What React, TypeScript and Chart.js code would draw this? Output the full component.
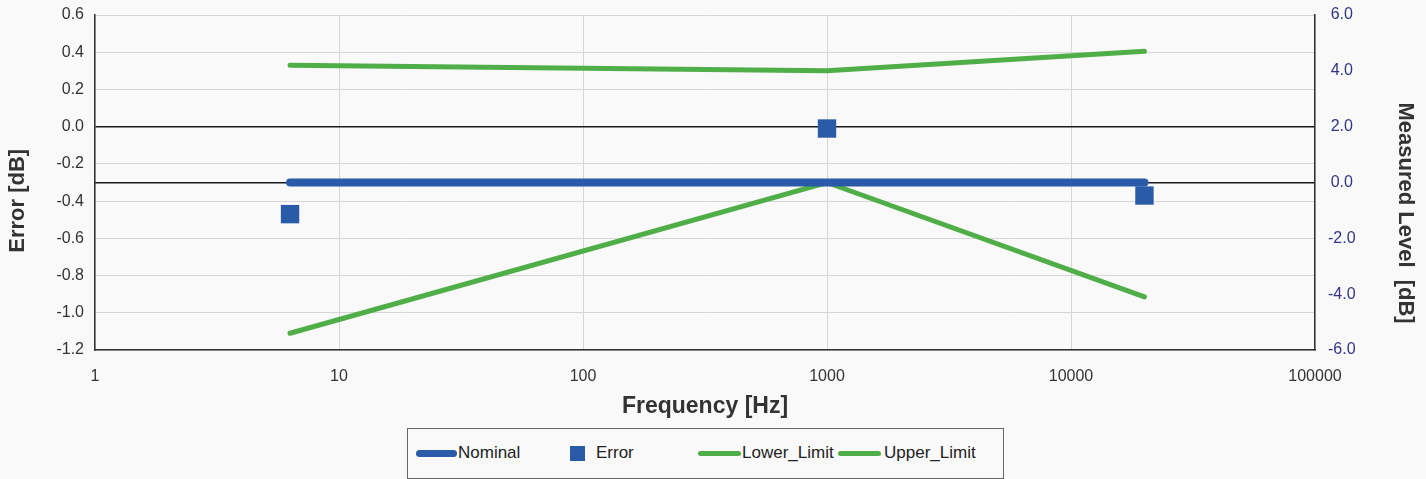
import React, { useEffect, useRef } from "react";
import { Chart, registerables } from "chart.js";

Chart.register(...registerables);

const FONT = "'Liberation Sans', Arial, Helvetica, sans-serif";

// Data
const frequencies = [6.3, 1000, 20000];
const nominalLevel = [0, 0, 0];
const errorValues = [-0.47, -0.01, -0.37];
const lowerLimit = [-5.4, 0.0, -4.1];
const upperLimit = [4.2, 4.0, 4.7];
const xTickValues = [1, 10, 100, 1000, 10000, 100000];
const seriesLabels = ["Nominal", "Error", "Lower_Limit", "Upper_Limit"];

const BLUE = "#2a5ba8";
const GREEN = "#50ae48";

const fmt1 = (v: number) => {
  const n = Math.abs(v) < 1e-9 ? 0 : v;
  return n.toFixed(1);
};

const pts = (ys: number[]) => frequencies.map((x, i) => ({ x, y: ys[i] }));

export default function App() {
  const ref = useRef<HTMLCanvasElement | null>(null);

  useEffect(() => {
    if (!ref.current) return;
    Chart.defaults.font.family = FONT;
    const chart = new Chart(ref.current, {
      type: "line",
      data: {
        datasets: [
          {
            label: seriesLabels[0],
            data: pts(nominalLevel),
            yAxisID: "y2",
            borderColor: BLUE,
            backgroundColor: BLUE,
            borderWidth: 8,
            borderCapStyle: "round",
            pointRadius: 0,
          },
          {
            label: seriesLabels[1],
            data: pts(errorValues),
            yAxisID: "y",
            showLine: false,
            pointStyle: "rect",
            pointRadius: 13,
            pointBorderWidth: 0,
            pointBackgroundColor: BLUE,
            borderColor: BLUE,
            backgroundColor: BLUE,
          },
          {
            label: seriesLabels[2],
            data: pts(lowerLimit),
            yAxisID: "y2",
            borderColor: GREEN,
            backgroundColor: GREEN,
            borderWidth: 5,
            borderCapStyle: "round",
            pointRadius: 0,
          },
          {
            label: seriesLabels[3],
            data: pts(upperLimit),
            yAxisID: "y2",
            borderColor: GREEN,
            backgroundColor: GREEN,
            borderWidth: 5,
            borderCapStyle: "round",
            pointRadius: 0,
          },
        ],
      },
      options: {
        responsive: false,
        devicePixelRatio: 1,
        animation: false,
        layout: { padding: { top: 15, left: 0, right: 0, bottom: 0 } },
        plugins: { legend: { display: false }, tooltip: { enabled: false } },
        scales: {
          x: {
            type: "logarithmic",
            min: 1,
            max: 100000,
            afterBuildTicks: (s: any) => {
              s.ticks = xTickValues.map((v) => ({ value: v }));
            },
            afterFit: (s: any) => {
              s.height = 70;
            },
            ticks: {
              autoSkip: false,
              maxRotation: 0,
              callback: (v: any) => String(v),
              font: { size: 16 },
              color: "#333",
              padding: 17,
            },
            grid: { color: "#d6d6d6", drawTicks: false },
            border: { color: "#333", width: 1.5 },
            title: {
              display: true,
              text: "Frequency [Hz]",
              font: { size: 23, weight: "bold" },
              color: "#333",
              padding: { top: 0, bottom: 0 },
            },
          },
          y: {
            type: "linear",
            position: "left",
            min: -1.2,
            max: 0.6,
            afterFit: (s: any) => {
              s.width = 95;
              s.paddingTop = 5;
              s.paddingBottom = 5;
            },
            ticks: {
              stepSize: 0.2,
              callback: (v: any) => fmt1(Number(v)),
              font: { size: 16 },
              color: "#333",
              padding: 11,
            },
            grid: {
              drawTicks: false,
              color: (c: any) =>
                c.tick && Math.abs(c.tick.value) < 1e-9 ? "#1a1a1a" : "#d6d6d6",
              lineWidth: (c: any) =>
                c.tick && Math.abs(c.tick.value) < 1e-9 ? 1.5 : 1,
            },
            border: { color: "#333", width: 1.5 },
            title: {
              display: true,
              text: "Error [dB]      ",
              font: { size: 22, weight: "bold" },
              color: "#333",
              padding: { top: 5, bottom: 0 },
            },
          },
          y2: {
            type: "linear",
            position: "right",
            min: -6,
            max: 6,
            afterFit: (s: any) => {
              s.width = 111;
              s.paddingTop = 5;
              s.paddingBottom = 5;
            },
            ticks: {
              stepSize: 2,
              callback: (v: any) => fmt1(Number(v)),
              font: { size: 16 },
              color: "#33338a",
              padding: 13,
              crossAlign: "center",
            },
            grid: {
              drawTicks: false,
              color: (c: any) =>
                c.tick && Math.abs(c.tick.value) < 1e-9 ? "#1a1a1a" : "rgba(0,0,0,0)",
              lineWidth: 1.5,
            },
            border: { color: "#333", width: 1.5 },
            title: {
              display: true,
              text: "          Measured Level  [dB]",
              font: { size: 22, weight: "bold" },
              color: "#333",
              padding: { top: 8, bottom: 0 },
            },
          },
        },
      } as any,
    });
    return () => chart.destroy();
  }, []);

  const textStyle: React.CSSProperties = {
    position: "absolute",
    top: 14,
    fontSize: 17,
    lineHeight: "20px",
    color: "#222",
    whiteSpace: "nowrap",
  };

  return (
    <div
      style={{
        position: "absolute",
        left: 0,
        top: 0,
        width: 1426,
        height: 479,
        background: "#f9f9f9",
        fontFamily: FONT,
        overflow: "hidden",
      }}
    >
      <canvas
        ref={ref}
        width={1426}
        height={420}
        style={{ position: "absolute", left: 0, top: 0, width: 1426, height: 420 }}
      />
      <div
        style={{
          position: "absolute",
          left: 407,
          top: 428,
          width: 595,
          height: 49,
          border: "1px solid #666",
        }}
      >
        <div style={{ position: "absolute", left: 8, top: 21, width: 41, height: 7, borderRadius: 4, background: BLUE }} />
        <div style={{ ...textStyle, left: 50 }}>{seriesLabels[0]}</div>
        <div style={{ position: "absolute", left: 162, top: 17, width: 15, height: 15, background: BLUE }} />
        <div style={{ ...textStyle, left: 188 }}>{seriesLabels[1]}</div>
        <div style={{ position: "absolute", left: 290, top: 22, width: 43, height: 5, borderRadius: 3, background: GREEN }} />
        <div style={{ ...textStyle, left: 334 }}>{seriesLabels[2]}</div>
        <div style={{ position: "absolute", left: 430, top: 22, width: 43, height: 5, borderRadius: 3, background: GREEN }} />
        <div style={{ ...textStyle, left: 476 }}>{seriesLabels[3]}</div>
      </div>
    </div>
  );
}
